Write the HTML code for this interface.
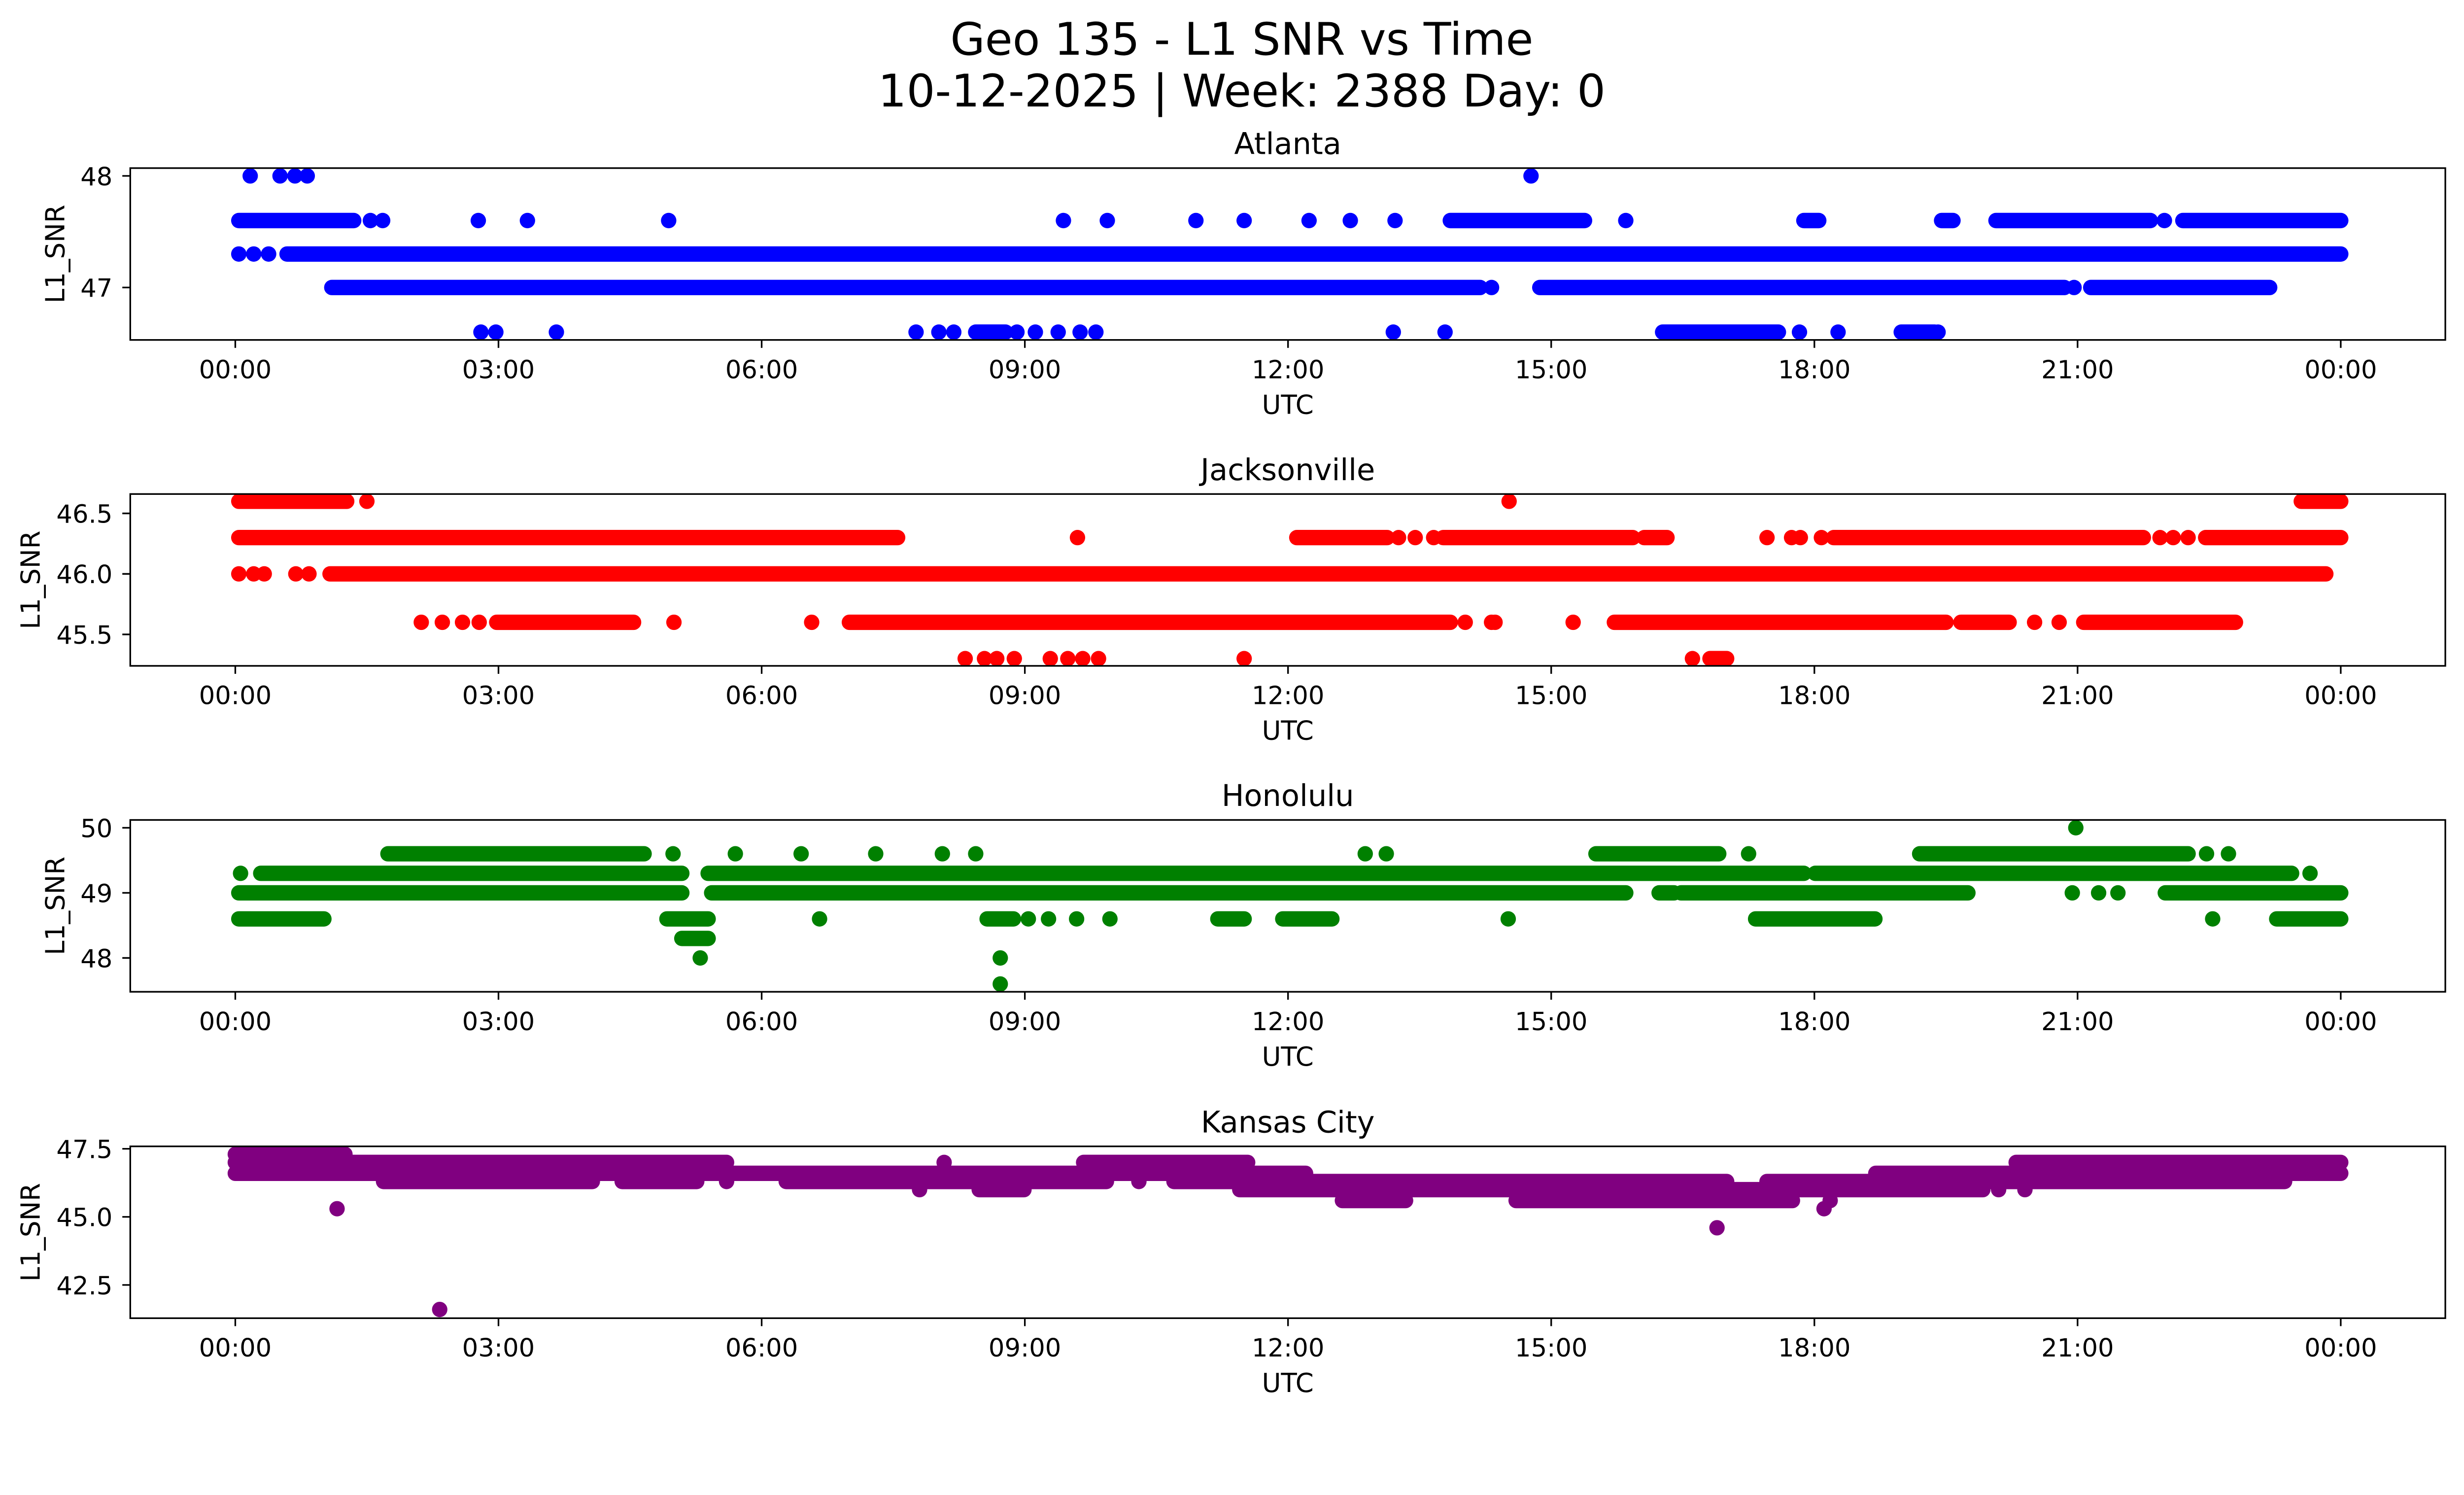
<!DOCTYPE html>
<html><head><meta charset="utf-8"><title>Geo 135 - L1 SNR vs Time</title>
<style>
html,body{margin:0;padding:0;background:#fff;overflow:hidden;}
svg{display:block;width:100vw;height:auto;font-family:"DejaVu Sans","Liberation Sans",sans-serif;}
</style></head>
<body>
<svg id="fig" xmlns="http://www.w3.org/2000/svg" viewBox="0 0 5278 3033" preserveAspectRatio="xMidYMin meet">
<rect x="0" y="0" width="5278" height="3033" fill="#fff"/>
<text x="2660" y="117" font-size="96" text-anchor="middle" fill="#000">Geo 135 - L1 SNR vs Time</text>
<text x="2660" y="228" font-size="96" text-anchor="middle" fill="#000">10-12-2025 | Week: 2388 Day: 0</text>
</svg>
<script>
// ---- shared axis data ----
const xTickHours = [0, 3, 6, 9, 12, 15, 18, 21, 24];
const xTickLabels = ["00:00","03:00","06:00","09:00","12:00","15:00","18:00","21:00","00:00"];

// ---- Atlanta ----
const atlYTicks = [47, 48];
const atlYLabels = ["47", "48"];
const atlRuns = [[0.04,1.35,47.6],[13.85,15.38,47.6],[17.88,18.05,47.6],[19.45,19.58,47.6],[20.07,21.83,47.6],[22.2,24,47.6],
  [0.59,24,47.3],[1.1,14.19,47.0],[14.87,20.85,47.0],[21.15,23.19,47.0],[8.44,8.78,46.6],[16.27,17.59,46.6],[18.99,19.37,46.6]];
const atlPoints = [[0.17,48],[0.51,48],[0.68,48],[0.82,48],[14.77,48],
  [1.54,47.6],[1.68,47.6],[2.77,47.6],[3.33,47.6],[4.94,47.6],[9.44,47.6],[9.94,47.6],[10.95,47.6],[11.5,47.6],[12.24,47.6],[12.71,47.6],[13.22,47.6],[15.85,47.6],[21.99,47.6],
  [0.04,47.3],[0.21,47.3],[0.38,47.3],[14.32,47.0],[20.96,47.0],
  [2.8,46.6],[2.97,46.6],[3.66,46.6],[7.76,46.6],[8.02,46.6],[8.19,46.6],[8.91,46.6],[9.12,46.6],[9.38,46.6],[9.63,46.6],[9.81,46.6],[13.2,46.6],[13.79,46.6],[17.83,46.6],[18.27,46.6],[19.41,46.6]];

// ---- Jacksonville ----
const jaxYTicks = [45.5, 46.0, 46.5];
const jaxYLabels = ["45.5", "46.0", "46.5"];
const jaxRuns = [[0.04,1.27,46.6],[23.55,24,46.6],
  [0.04,7.55,46.3],[12.1,13.13,46.3],[13.77,15.93,46.3],[16.06,16.32,46.3],[18.22,21.75,46.3],[22.46,24,46.3],
  [1.08,23.83,46.0],
  [2.98,4.54,45.6],[7.0,13.85,45.6],[15.72,19.5,45.6],[19.67,20.22,45.6],[21.07,22.8,45.6],
  [16.81,17.0,45.3]];
const jaxPoints = [[1.5,46.6],[14.52,46.6],
  [9.6,46.3],[13.26,46.3],[13.45,46.3],[13.66,46.3],[17.46,46.3],[17.74,46.3],[17.84,46.3],[18.08,46.3],[21.94,46.3],[22.09,46.3],[22.26,46.3],
  [0.04,46.0],[0.21,46.0],[0.33,46.0],[0.69,46.0],[0.84,46.0],
  [2.12,45.6],[2.36,45.6],[2.59,45.6],[2.78,45.6],[5.0,45.6],[6.57,45.6],[14.02,45.6],[14.32,45.6],[14.36,45.6],[15.25,45.6],[20.51,45.6],[20.79,45.6],
  [8.32,45.3],[8.54,45.3],[8.68,45.3],[8.88,45.3],[9.29,45.3],[9.49,45.3],[9.66,45.3],[9.84,45.3],[11.5,45.3],[16.61,45.3]];

// ---- Honolulu ----
const hnlYTicks = [48, 49, 50];
const hnlYLabels = ["48", "49", "50"];
const hnlRuns = [[1.74,4.66,49.6],[15.51,16.91,49.6],[19.2,22.26,49.6],
  [0.29,5.09,49.3],[5.39,17.88,49.3],[18.01,23.44,49.3],
  [0.04,5.09,49.0],[5.43,15.85,49.0],[16.23,16.4,49.0],[16.48,19.75,49.0],[22.0,24,49.0],
  [0.04,1.01,48.6],[4.92,5.39,48.6],[8.57,8.87,48.6],[11.2,11.5,48.6],[11.94,12.5,48.6],[17.33,18.69,48.6],[23.27,24,48.6],
  [5.09,5.39,48.3]];
const hnlPoints = [[20.98,50.0],
  [4.99,49.6],[5.7,49.6],[6.45,49.6],[7.3,49.6],[8.06,49.6],[8.44,49.6],[12.88,49.6],[13.12,49.6],[17.25,49.6],[22.47,49.6],[22.72,49.6],
  [0.06,49.3],[23.65,49.3],[20.94,49.0],[21.24,49.0],[21.46,49.0],
  [6.66,48.6],[9.04,48.6],[9.27,48.6],[9.59,48.6],[9.97,48.6],[14.51,48.6],[22.54,48.6],
  [5.3,48.0],[8.72,48.0],[8.72,47.6]];

// ---- Kansas City ----
const kcYTicks = [42.5, 45.0, 47.5];
const kcYLabels = ["42.5", "45.0", "47.5"];
const kcRuns = [[0,1.25,47.3],
  [0,5.6,47.0],[9.67,11.54,47.0],[20.3,24,47.0],
  [0,12.2,46.6],[18.7,24,46.6],
  [1.69,4.07,46.3],[4.41,5.26,46.3],[6.28,9.93,46.3],[10.7,17.0,46.3],[17.46,23.36,46.3],
  [8.48,8.99,46.0],[11.45,19.92,46.0],
  [12.62,13.34,45.6],[14.6,17.75,45.6]];
const kcPoints = [[8.08,47.0],[5.6,46.3],[10.3,46.3],[7.8,46.0],[20.1,46.0],[20.4,46.0],[18.18,45.6],
  [1.16,45.3],[18.11,45.3],[16.89,44.6],[2.33,41.6]];

const panels = [
  {name:"atlanta", title:"Atlanta", top:360, ymin:46.53, ymax:48.07, ticks:atlYTicks, labels:atlYLabels, runs:atlRuns, pts:atlPoints, color:"#0000ff", ylx:118},
  {name:"jacksonville", title:"Jacksonville", top:1058, ymin:45.24, ymax:46.66, ticks:jaxYTicks, labels:jaxYLabels, runs:jaxRuns, pts:jaxPoints, color:"#ff0000", ylx:65},
  {name:"honolulu", title:"Honolulu", top:1756, ymin:47.48, ymax:50.12, ticks:hnlYTicks, labels:hnlYLabels, runs:hnlRuns, pts:hnlPoints, color:"#008000", ylx:118},
  {name:"kansas-city", title:"Kansas City", top:2455, ymin:41.28, ymax:47.59, ticks:kcYTicks, labels:kcYLabels, runs:kcRuns, pts:kcPoints, color:"#800080", ylx:65}
];

const NS = "http://www.w3.org/2000/svg";
const svg = document.getElementById("fig");
const AX_L = 279, AX_R = 5238, AX_H = 368;
const X0 = 504, X24 = 5014;
const R = 16.5;
function xScale(h){ return X0 + h * (X24 - X0) / 24; }
function mk(tag, attrs, parent){
  const e = document.createElementNS(NS, tag);
  for (const k in attrs) e.setAttribute(k, attrs[k]);
  (parent || svg).appendChild(e);
  return e;
}

panels.forEach(p => {
  const top = p.top, bot = top + AX_H;
  const yScale = v => bot - (v - p.ymin) / (p.ymax - p.ymin) * AX_H;
  const g = mk("g", {});
  
  

  const clipId = "clip-" + p.name;
  const cp = mk("clipPath", {id: clipId}, g);
  mk("rect", {x: AX_L, y: top, width: AX_R - AX_L, height: AX_H}, cp);
  const marks = mk("g", {"clip-path": "url(#" + clipId + ")"}, g);
  
  

  p.runs.forEach(r => {
    const ln = mk("line", {x1: xScale(r[0]), x2: xScale(r[1]), y1: yScale(r[2]), y2: yScale(r[2]),
      stroke: p.color, "stroke-width": 2 * R, "stroke-linecap": "round"}, marks);
    
    
  });
  p.pts.forEach(pt => {
    const c = mk("circle", {cx: xScale(pt[0]), cy: yScale(pt[1]), r: R, fill: p.color}, marks);
    
    
  });

  const frame = mk("rect", {x: AX_L, y: top, width: AX_R - AX_L, height: AX_H, fill: "none", stroke: "#000", "stroke-width": 3.5}, g);
  
  

  xTickHours.forEach((h, i) => {
    const x = xScale(h);
    const t = mk("line", {x1: x, x2: x, y1: bot, y2: bot + 17, stroke: "#000", "stroke-width": 3.5}, g);
    
    
    const tl = mk("text", {x: x, y: bot + 82, "font-size": 54, "text-anchor": "middle", fill: "#000"}, g);
    tl.textContent = xTickLabels[i];
    
    
  });
  p.ticks.forEach((v, i) => {
    const y = yScale(v);
    const t = mk("line", {x1: AX_L - 17, x2: AX_L, y1: y, y2: y, stroke: "#000", "stroke-width": 3.5}, g);
    
    
    const tl = mk("text", {x: AX_L - 38, y: y + 20, "font-size": 54, "text-anchor": "end", fill: "#000"}, g);
    tl.textContent = p.labels[i];
    
    
  });

  const xl = mk("text", {x: (AX_L + AX_R) / 2, y: bot + 158, "font-size": 56, "text-anchor": "middle", fill: "#000"}, g);
  xl.textContent = "UTC";
  
  

  const yl = mk("text", {x: 0, y: 0, "font-size": 56, "text-anchor": "middle", fill: "#000",
    transform: "translate(" + (p.ylx + 20) + "," + (top + AX_H / 2) + ") rotate(-90)"}, g);
  yl.textContent = "L1_SNR";
  
  

  const tt = mk("text", {x: (AX_L + AX_R) / 2, y: top - 30, "font-size": 64, "text-anchor": "middle", fill: "#000"}, g);
  tt.textContent = p.title;
  
  
});
</script>
</body></html>
